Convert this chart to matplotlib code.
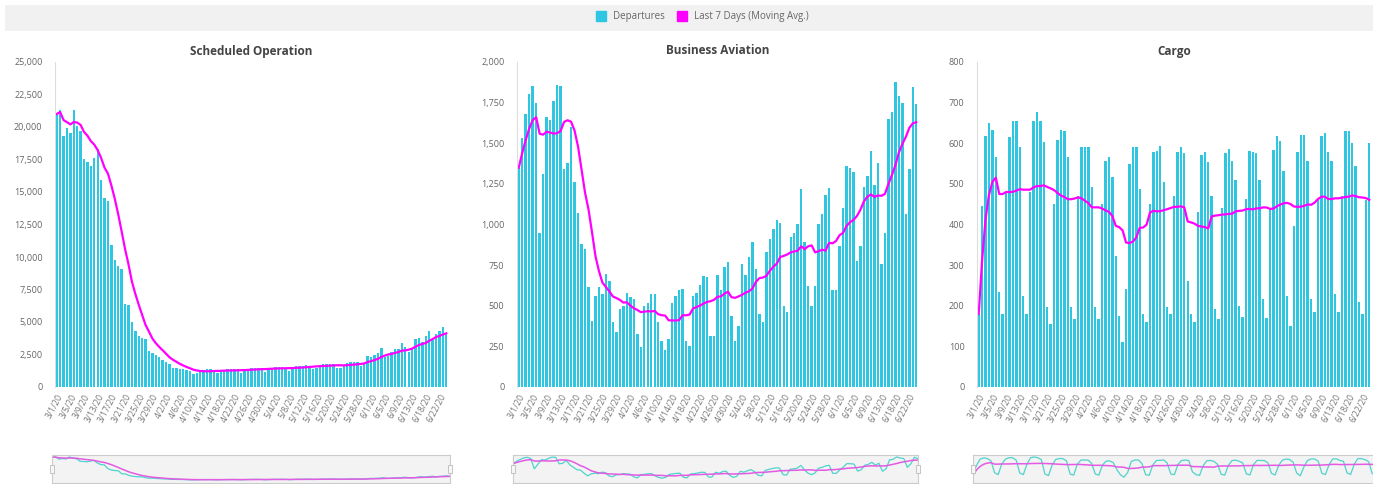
import matplotlib
matplotlib.use("Agg")
import matplotlib.pyplot as plt
import numpy as np
import pandas as pd
from matplotlib.lines import Line2D
from matplotlib.patches import Rectangle

plt.rcParams['font.family'] = ['Open Sans', 'DejaVu Sans']

# daily departures, 3/1/20 .. 6/24/20 (one day missing in the source)
scheduled = [
    21000, 21300, 19300, 19900, 19500, 21300, 20100,
    19700, 17500, 17300, 17000, 17600, 18300, 15900,
    14500, 14300, 10900, 9800, 9300, 9100, 6400,
    6300, 5000, 4300, 3900, 3800, 3700, 2800,
    2600, 2500, 2300, 2100, 1900, 1800, 1500,
    1500, 1400, 1400, 1300, 1200, 1000, 1100,
    1200, 1300, 1350, 1350, 1300, 1050, 1150,
    1300, 1350, 1400, 1400, 1350, 1100, 1200,
    1400, 1450, 1500, 1500, 1450, 1150, 1300,
    1500, 1550, 1550, 1550, 1500, 1200, 1350,
    1600, 1650, 1650, 1700, 1650, 1350, 1500,
    1700, 1750, 1750, 1800, 1750, 1450, 1500,
    1650, 1850, 1900, 1950, 1950, 1600, 1800,
    2400, 2300, 2500, 2600, 3000, 2300, 2400,
    2700, 2900, 2900, 3400, 3100, 2700, 3000,
    3700, 3800, 3500, 3900, 4300, 3600, 4100,
    4300, 4600, 4100,
]

business = [
    1350, 1530, 1680, 1800, 1850, 1750, 950,
    1310, 1660, 1640, 1760, 1860, 1850, 1340,
    1380, 1600, 1260, 1070, 880, 850, 615,
    405, 560, 615, 570, 695, 655, 400,
    338, 480, 500, 580, 555, 540, 325,
    245, 500, 520, 570, 575, 400, 285,
    225, 295, 520, 560, 600, 605, 285,
    255, 560, 580, 625, 685, 675, 315,
    315, 690, 600, 740, 770, 440, 285,
    375, 760, 690, 800, 890, 725, 450,
    400, 830, 910, 970, 1030, 1010, 500,
    460, 920, 950, 1000, 1220, 890, 620,
    500, 620, 1000, 1065, 1180, 1225, 600,
    600, 870, 1100, 1360, 1345, 1320, 775,
    870, 1230, 1300, 1455, 1240, 1380, 760,
    950, 1650, 1690, 1875, 1790, 1750, 1065,
    1340, 1845, 1740,
]

cargo = [
    180, 445, 617, 650, 633, 567, 233,
    180, 480, 615, 655, 655, 590, 225,
    180, 480, 655, 677, 655, 603, 197,
    155, 450, 607, 632, 630, 565, 197,
    167, 470, 590, 590, 590, 492, 197,
    167, 450, 557, 566, 517, 323, 175,
    110, 241, 549, 590, 590, 488, 180,
    160, 450, 578, 580, 594, 505, 197,
    180, 470, 578, 590, 575, 262, 180,
    160, 430, 570, 578, 553, 470, 192,
    167, 440, 575, 586, 557, 510, 200,
    172, 463, 580, 578, 575, 510, 217,
    170, 440, 583, 618, 605, 532, 225,
    150, 397, 578, 620, 620, 557, 217,
    185, 460, 617, 625, 578, 557, 229,
    185, 470, 630, 630, 600, 545, 210,
    180, 460, 600,
]

tick_labels = [
    "3/1/20", "3/5/20", "3/9/20", "3/13/20", "3/17/20", "3/21/20", "3/25/20",
    "3/29/20", "4/2/20", "4/6/20", "4/10/20", "4/14/20", "4/18/20", "4/22/20",
    "4/26/20", "4/30/20", "5/4/20", "5/8/20", "5/12/20", "5/16/20", "5/20/20",
    "5/24/20", "5/28/20", "6/1/20", "6/5/20", "6/9/20", "6/13/20", "6/18/20",
    "6/22/20",
]

titles = ["Scheduled Operation", "Business Aviation", "Cargo"]
y_max = [25000, 2000, 800]
y_step = [2500, 250, 100]

BAR = '#2ec6e0'
MA = '#ff00ff'
W, H = 1373, 484

fig = plt.figure(figsize=(W / 100, H / 100), dpi=100)

# light band behind the legend
fig.patches.append(Rectangle((5 / W, 1 - 31 / H), 1, 26 / H, transform=fig.transFigure,
                             facecolor='#f1f1f1', edgecolor='none', zorder=0))

handles = [Line2D([], [], marker='s', ls='none', color=BAR, markersize=7),
           Line2D([], [], marker='s', ls='none', color=MA, markersize=7)]
fig.legend(handles, ["Departures", "Last 7 Days (Moving Avg.)"], loc='center',
           bbox_to_anchor=(0.51, 1 - 17 / H), ncol=2, frameon=False, fontsize=7,
           handletextpad=0.2, columnspacing=0.8, labelcolor='#666666')

main_pos = [(55, 393), (517, 401), (977, 394)]
mini_pos = [(52, 398), (513, 405), (973, 410)]

for k, vals in enumerate([scheduled, business, cargo]):
    x = np.arange(len(vals))
    ma = pd.Series(vals).rolling(7, min_periods=1).mean()

    left, width = main_pos[k]
    ax = fig.add_axes([left / W, 97 / H, width / W, 325 / H])
    ax.bar(x, vals, width=0.7, color=BAR)
    ax.plot(x, ma, color=MA, lw=1.6)
    ax.set_xlim(-0.5, len(vals) - 0.5)
    ax.set_ylim(0, y_max[k])
    yt = np.arange(0, y_max[k] + 1, y_step[k])
    ax.set_yticks(yt)
    ax.set_yticklabels([f'{v:,}' for v in yt], fontsize=6.5, color='#666666')
    ax.set_xticks(x[::4])
    ax.set_xticklabels(tick_labels, rotation=62, ha='right', va='top',
                       rotation_mode='anchor', fontsize=6.2, color='#777777')
    ax.tick_params(axis='y', length=0, pad=9)
    ax.tick_params(axis='x', length=0, pad=4)
    for s in ['top', 'right', 'bottom']:
        ax.spines[s].set_visible(False)
    ax.spines['left'].set_color('#dddddd')
    ax.spines['left'].set_linewidth(0.8)

    fig.text((left + width / 2) / W, 1 - 51 / H, titles[k], ha='center', va='center',
             fontsize=8.5, fontweight='bold', color='#444444')

    # little navigator preview underneath
    mleft, mwidth = mini_pos[k]
    mx = fig.add_axes([mleft / W, 1 / H, mwidth / W, 28 / H])
    mx.set_facecolor('#f3f3f3')
    mx.plot(x, vals, color='#4fd3cc', lw=0.9)
    mx.plot(x, ma, color='#e35ae3', lw=1.1)
    mx.set_xlim(0, len(vals) - 1)
    mx.set_ylim(-0.08 * max(vals), max(vals) * 1.08)
    mx.set_xticks([])
    mx.set_yticks([])
    for s in mx.spines.values():
        s.set_color('#cccccc')
        s.set_linewidth(0.8)
    for hx in (0, 1):
        mx.add_patch(Rectangle((hx - 0.006, 0.35), 0.012, 0.3, transform=mx.transAxes,
                               facecolor='#f7f7f7', edgecolor='#bbbbbb', lw=0.6,
                               clip_on=False, zorder=5))

fig.savefig('out.png', dpi=100)
